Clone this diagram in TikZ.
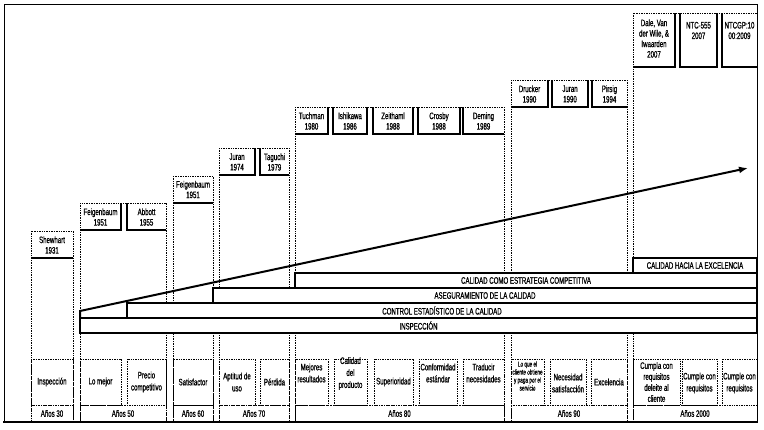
\documentclass[tikz,border=0pt]{standalone}
\usepackage{fontspec}
\setmainfont{Liberation Sans}[FakeStretch=0.65,FakeBold=0.8]
\usetikzlibrary{arrows.meta}
\tikzset{
  dsh/.style={line width=0.7pt, dash pattern=on 1pt off 0.7pt},
  hbar/.style={line width=2.4pt, line join=miter},
  band/.style={draw, fill=white, line width=1.6pt, inner sep=0pt, outer sep=0pt, font=\fontsize{9.4}{10}\selectfont},
  hdr/.style={inner sep=0pt, align=center, font=\fontsize{9.4}{10.5}\selectfont},
  dtxt/.style={inner sep=0pt, align=center, font=\fontsize{9.4}{12}\selectfont},
  stxt/.style={inner sep=0pt, align=center, font=\fontsize{7.2}{8}\selectfont},
  anos/.style={draw, dsh, inner sep=0pt, minimum height=17pt, font=\fontsize{9.4}{10}\selectfont},
  arrowline/.style={line width=2pt, -{Latex[length=9pt,width=7pt]}}
}
\newcommand\dbox[6][dtxt]{%
  \draw[dsh] (#3,359) rectangle (#4,405);
  \node[#1] (#2) at ({(#3+#4)/2},#5) {#6};}
\newcommand\abox[4]{%
  \node[anos, minimum width={#4-#3}] (#1) at ({(#3+#4)/2},413.5) {#2};}
\begin{document}
\begin{tikzpicture}[x=1pt,y=-1pt]
\useasboundingbox (0,0) rectangle (764,429);
% frame
\draw[line width=0.8pt] (4,422) -- (4,4) -- (757,4) -- (757,422);
\draw[line width=2pt] (3,422) -- (758,422);
% columns
\draw[dsh] (31,231) rectangle (73,422);
\draw[dsh] (80,203) rectangle (166,422);
\draw[dsh] (173,176) rectangle (213,422);
\draw[dsh] (219,148) rectangle (289,422);
\draw[dsh] (295,107) rectangle (504,422);
\draw[dsh] (511,80) rectangle (627,422);
\draw[dsh] (633,13) rectangle (757,422);
% descriptor boxes
\dbox{d30}{31}{73}{382}{Inspección}
\dbox{d50a}{80}{121}{382}{Lo mejor}
\dbox{d50b}{127}{166}{382}{Precio\\competitivo}
\dbox{d60}{173}{213}{382}{Satisfactor}
\dbox{d70a}{219}{255}{382}{Aptitud de\\uso}
\dbox{d70b}{260}{289}{382}{Pérdida}
\dbox{d80a}{295}{328}{373}{Mejores\\resultados}
\dbox{d80b}{334}{367}{373.5}{Calidad\\del\\producto}
\dbox{d80c}{374}{413}{382}{Superioridad}
\dbox{d80d}{419}{457}{373}{Conformidad\\estándar}
\dbox{d80e}{463}{504}{373}{Traducir\\necesidades}
\dbox[stxt]{d90a}{511}{544}{376}{Lo que el\\cliente obtiene\\y paga por el\\servicio}
\dbox{d90b}{550}{586}{383}{Necesidad\\satisfacción}
\dbox{d90c}{591}{627}{382}{Excelencia}
\dbox[dtxt, font=\fontsize{9.4}{11}\selectfont]{d00a}{633}{680}{382}{Cumpla con\\requisitos\\deleite al\\cliente}
\dbox{d00b}{682}{717}{383}{Cumple con\\requisitos}
\dbox{d00c}{722}{757}{383}{Cumple con\\requisitos}
% años
\abox{a30}{Años 30}{31}{73}
\abox{a50}{Años 50}{80}{166}
\abox{a60}{Años 60}{173}{213}
\abox{a70}{Años 70}{219}{289}
\abox{a80}{Años 80}{295}{504}
\abox{a90}{Años 90}{511}{627}
\abox{a00}{Años 2000}{633}{757}
% header bars
\draw[hbar] (31,258) -- (73,258);
\draw[hbar] (80,230) -- (121,230) -- (121,203);
\draw[hbar] (127,203) -- (127,230) -- (166,230);
\draw[hbar] (173,203) -- (213,203);
\draw[hbar] (219,175) -- (255,175) -- (255,148);
\draw[hbar] (260,148) -- (260,175) -- (289,175);
\draw[hbar] (295,134) -- (328,134) -- (328,107);
\draw[hbar] (333,107) -- (333,134) -- (367,134) -- (367,107);
\draw[hbar] (373,107) -- (373,134) -- (413,134) -- (413,107);
\draw[hbar] (418,107) -- (418,134) -- (460,134) -- (460,107);
\draw[hbar] (463,107) -- (463,134) -- (504,134);
\draw[hbar] (511,107) -- (548,107) -- (548,80);
\draw[hbar] (552,80) -- (552,107) -- (588,107) -- (588,80);
\draw[hbar] (592,80) -- (592,107) -- (627,107);
\draw[hbar] (633,67) -- (675,67) -- (675,13);
\draw[hbar] (680,13) -- (680,67) -- (717,67) -- (717,13);
\draw[hbar] (722,13) -- (722,67) -- (757,67);
% header texts
\node[hdr] (h30) at (52,245) {Shewhart\\1931};
\node[hdr] (h50a) at (100.5,217) {Feigenbaum\\1951};
\node[hdr] (h50b) at (146.5,217) {Abbott\\1955};
\node[hdr] (h60) at (193,189.5) {Feigenbaum\\1951};
\node[hdr] (h70a) at (237,162) {Juran\\1974};
\node[hdr] (h70b) at (274.5,162) {Taguchi\\1979};
\node[hdr] (h80a) at (311.5,121) {Tuchman\\1980};
\node[hdr] (h80b) at (350,121) {Ishikawa\\1986};
\node[hdr] (h80c) at (393,121) {Zeithaml\\1988};
\node[hdr] (h80d) at (439,121) {Crosby\\1988};
\node[hdr] (h80e) at (483.5,121) {Deming\\1989};
\node[hdr] (h90a) at (529.5,94) {Drucker\\1990};
\node[hdr] (h90b) at (570,94) {Juran\\1990};
\node[hdr] (h90c) at (609.5,94) {Pirsig\\1994};
\node[hdr] (h00a) at (654,38.5) {Dale, Van\\der Wile, \&\\Iwaarden\\2007};
\node[hdr] (h00b) at (698.5,30.5) {NTC-555\\2007};
\node[hdr] (h00c) at (739.5,30.5) {NTCGP:10\\00:2009};
% bands
\node[band, minimum width=124, minimum height=15] (bexc) at (695,265.5) {CALIDAD HACIA LA EXCELENCIA};
\node[band, minimum width=462, minimum height=15] (bestr) at (526,280.5) {CALIDAD COMO ESTRATEGIA COMPETITIVA};
\node[band, minimum width=544, minimum height=15] (baseg) at (485,295.5) {ASEGURAMIENTO DE LA CALIDAD};
\node[band, minimum width=630, minimum height=15] (bctrl) at (442,310.5) {CONTROL ESTADÍSTICO DE LA CALIDAD};
\node[band, minimum width=677, minimum height=15] (binsp) at (418.5,325.5) {INSPECCIÓN};
% arrow
\coordinate (astart) at (80,311);
\coordinate (aend) at (748,168);
\draw[arrowline] (binsp.north west) -- (astart) -- (aend);
\end{tikzpicture}
\end{document}
